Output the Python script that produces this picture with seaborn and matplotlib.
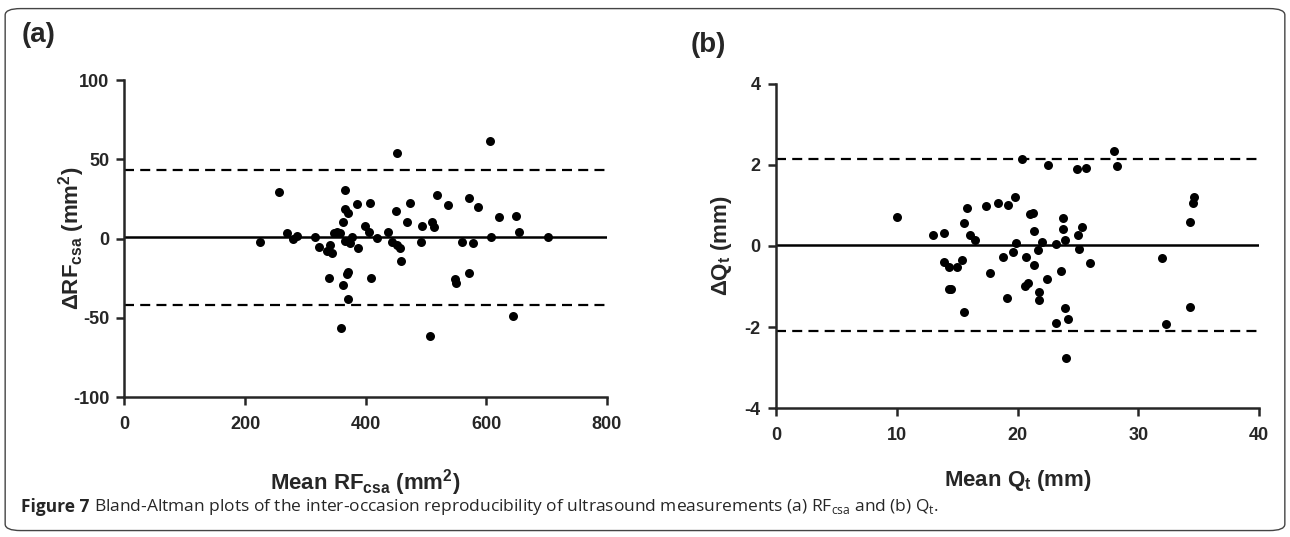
import numpy as np
import pandas as pd
import matplotlib
matplotlib.use("Agg")
import matplotlib.pyplot as plt
from matplotlib.patches import FancyBboxPatch
import seaborn as sns

# Painel (a): RF_csa
rf_mean = [225, 256, 269, 280, 286, 316, 323, 336, 345, 341, 347, 352, 358, 340, 359,
           366, 366, 371, 363, 366, 377, 374, 388, 371, 369, 363, 371, 385, 407, 399,
           405, 419, 409, 438, 443, 452, 457, 459, 452, 451, 474, 468, 493, 510, 514,
           492, 507, 518, 537, 560, 548, 550, 572, 572, 586, 579, 607, 608, 622, 650,
           655, 644, 703]
rf_diff = [-2.0, 29.5, 3.3, -0.5, 1.6, 0.7, -5.6, -7.9, -9.4, -4.1, 3.3, 4.3, 3.3, -25.1, -56.7,
           30.6, 18.4, 15.9, 10.6, -1.4, 1.1, -3.0, -6.2, -20.9, -22.6, -29.3, -38.4, 21.6, 22.6, 7.9,
           4.3, 0.1, -25.1, 4.3, -2.0, -4.1, -6.2, -14.0, 53.7, 17.5, 22.6, 10.6, 7.9, 10.6, 7.0,
           -2.0, -61.5, 27.4, 21.1, -2.0, -25.8, -28.3, -22.0, 25.8, 20.1, -3.0, 61.7, 0.7, 13.4, 14.0,
           4.3, -48.7, 1.1]
rf_bias, rf_upper, rf_lower = 1.0, 43.0, -42.0

# Painel (b): Q_t
qt_mean = [10.0, 13.0, 13.9, 15.8, 15.6, 16.1, 16.5, 17.4, 18.4, 19.2, 19.8, 20.4, 22.5, 24.9,
           25.7, 28.0, 28.2, 21.0, 21.3, 21.4, 23.8, 23.8, 25.3, 25.0, 23.9, 23.2, 25.1, 22.0,
           21.7, 19.9, 19.6, 18.8, 20.7, 21.4, 13.9, 14.3, 15.0, 15.4, 14.35, 14.5, 15.6, 17.7,
           19.1, 20.6, 20.9, 21.8, 21.8, 22.4, 23.6, 26.0, 23.95, 24.2, 23.2, 24.0,
           32.0, 32.3, 34.3, 34.5, 34.6, 34.3]
qt_diff = [0.72, 0.26, 0.31, 0.95, 0.58, 0.27, 0.15, 0.99, 1.05, 1.0, 1.22, 2.14, 2.0, 1.89,
           1.93, 2.35, 1.98, 0.78, 0.82, 0.37, 0.68, 0.41, 0.48, 0.27, 0.15, 0.05, -0.08, 0.11,
           -0.1, 0.07, -0.14, -0.26, -0.26, -0.47, -0.39, -0.51, -0.51, -0.35, -1.05, -1.06, -1.62, -0.67,
           -1.28, -0.99, -0.92, -1.13, -1.33, -0.82, -0.62, -0.41, -1.54, -1.79, -1.91, -2.77,
           -0.3, -1.93, 0.6, 1.05, 1.2, -1.5]
qt_bias, qt_upper, qt_lower = 0.03, 2.15, -2.1

sns.set_style("ticks")
plt.rcParams['font.family'] = ['Liberation Sans', 'DejaVu Sans']
plt.rcParams['font.weight'] = 'bold'
plt.rcParams['axes.unicode_minus'] = False
plt.rcParams['mathtext.fontset'] = 'custom'
plt.rcParams['mathtext.rm'] = 'Liberation Sans:bold'
plt.rcParams['mathtext.it'] = 'Liberation Sans:bold'
plt.rcParams['mathtext.bf'] = 'Liberation Sans:bold'

fig = plt.figure(figsize=(12.9, 5.37), dpi=100)
ax_a = fig.add_axes([0.0965, 0.2607, 0.3738, 0.5903])
ax_b = fig.add_axes([0.6016, 0.2402, 0.3744, 0.6034])


def bland_altman(ax, x, y, bias, upper, lower, xlim, ylim, xticks, yticks,
                 xlabel, ylabel, xpad, ylabel_x):
    df = pd.DataFrame({'media': x, 'dif': y})
    ax.axhline(bias, color='black', lw=1.8, zorder=1)
    for lim in (upper, lower):
        ax.axhline(lim, color='black', lw=1.6, ls=(0, (4.5, 2.8)), zorder=1)
    sns.scatterplot(data=df, x='media', y='dif', ax=ax, color='black', s=42,
                    linewidth=0, zorder=3, clip_on=False)
    ax.set_xlim(*xlim)
    ax.set_ylim(*ylim)
    ax.set_xticks(xticks)
    ax.set_yticks(yticks)
    ax.tick_params(labelsize=13, width=1.8, length=6, direction='out')
    ax.tick_params(axis='x', pad=8)
    ax.tick_params(axis='y', pad=5)
    for lab in ax.get_xticklabels() + ax.get_yticklabels():
        lab.set_fontweight('bold')
    sns.despine(ax=ax)
    for side in ('left', 'bottom'):
        ax.spines[side].set_linewidth(1.8)
    ax.set_xlabel(xlabel, fontsize=16, fontweight='bold', labelpad=xpad)
    ax.set_ylabel(ylabel, fontsize=16, fontweight='bold')
    ax.yaxis.set_label_coords(ylabel_x, 0.5)


bland_altman(ax_a, rf_mean, rf_diff, rf_bias, rf_upper, rf_lower,
             (0, 800), (-100, 100), [0, 200, 400, 600, 800], [-100, -50, 0, 50, 100],
             r'Mean RF$_{\mathregular{csa}}$ (mm$^{\mathregular{2}}$)',
             r'ΔRF$_{\mathregular{csa}}$ (mm$^{\mathregular{2}}$)', 24, -0.078)
bland_altman(ax_b, qt_mean, qt_diff, qt_bias, qt_upper, qt_lower,
             (0, 40), (-4, 4), [0, 10, 20, 30, 40], [-4, -2, 0, 2, 4],
             r'Mean Q$_{\mathregular{t}}$ (mm)',
             r'ΔQ$_{\mathregular{t}}$ (mm)', 17, -0.088)

fig.text(0.017, 0.935, '(a)', fontsize=20, fontweight='bold', va='center')
fig.text(0.535, 0.916, '(b)', fontsize=20, fontweight='bold', va='center')

# Legenda da figura
t1 = fig.text(0.016, 0.055, 'Figure 7 ', fontsize=12.5, fontweight='bold', va='center',
              family=['Open Sans', 'DejaVu Sans'])
fig.canvas.draw()
bb = t1.get_window_extent(renderer=fig.canvas.get_renderer())
x_next = bb.x1 / fig.bbox.width
fig.text(x_next, 0.055,
         r'Bland-Altman plots of the inter-occasion reproducibility of ultrasound measurements (a) RF$_{\mathregular{csa}}$ and (b) Q$_{\mathregular{t}}$.',
         fontsize=12.5, fontweight='normal', va='center', family=['Open Sans', 'DejaVu Sans'],
         math_fontfamily='dejavusans')

borda = FancyBboxPatch((0.004, 0.012), 0.992, 0.972, boxstyle='round,pad=0,rounding_size=0.012',
                       transform=fig.transFigure, fill=False, edgecolor='#444444', lw=1.0)
fig.patches.append(borda)

fig.savefig('out.png', dpi=100)
